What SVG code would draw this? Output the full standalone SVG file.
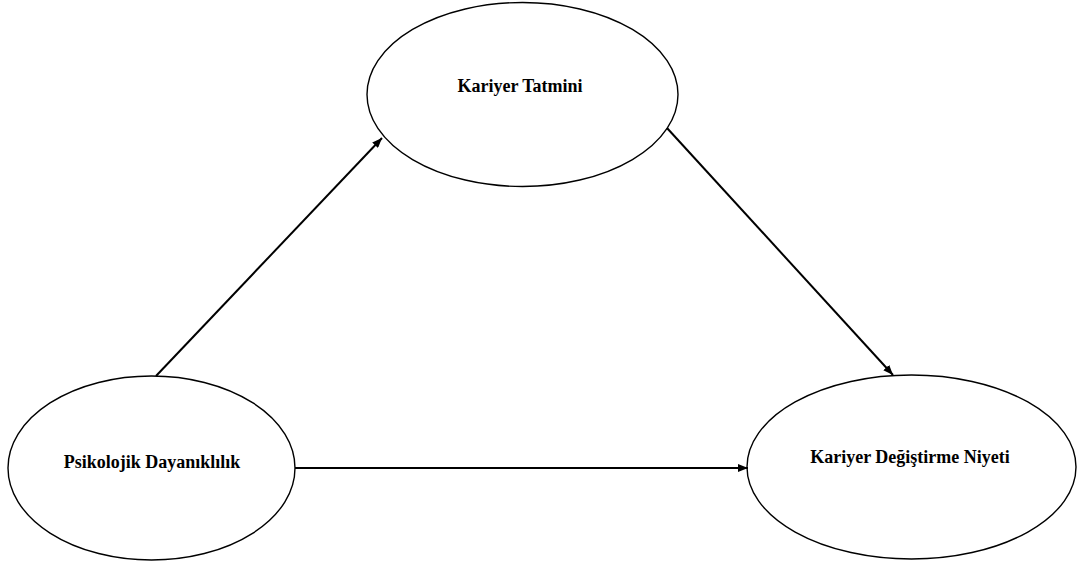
<svg xmlns="http://www.w3.org/2000/svg" width="1077" height="562" viewBox="0 0 1077 562">
<style>
.node ellipse{fill:#fff;stroke:#000;stroke-width:1.4}
.node text{font-family:"Liberation Serif","Times New Roman",serif;font-weight:bold;font-size:18px;fill:#000;text-anchor:middle}
.edge{stroke:#000;stroke-width:2;fill:none;marker-end:url(#arr)}
</style>
<defs>
<marker id="arr" viewBox="0 0 10 8" refX="10" refY="4" markerWidth="10" markerHeight="8" markerUnits="userSpaceOnUse" orient="auto">
<path d="M0,0 L10,4 L0,8 Z" fill="#000"/>
</marker>
</defs>
<rect width="1077" height="562" fill="#fff"/>
<g id="n-tatmin" class="node">
<ellipse cx="522.5" cy="94.5" rx="155.5" ry="92"/>
<text x="520" y="92">Kariyer Tatmini</text>
</g>
<g id="n-psiko" class="node">
<ellipse cx="151.5" cy="468" rx="143.5" ry="92"/>
<text x="152" y="468">Psikolojik Dayanıklılık</text>
</g>
<g id="n-niyet" class="node">
<ellipse cx="911.5" cy="467" rx="164.5" ry="92"/>
<text x="910" y="463">Kariyer Değiştirme Niyeti</text>
</g>
<g id="connectors">
<line class="edge" x1="156" y1="376" x2="382" y2="138"/>
<line class="edge" x1="667" y1="128" x2="893" y2="375"/>
<line class="edge" x1="295" y1="468" x2="748" y2="468"/>
</g>
</svg>
